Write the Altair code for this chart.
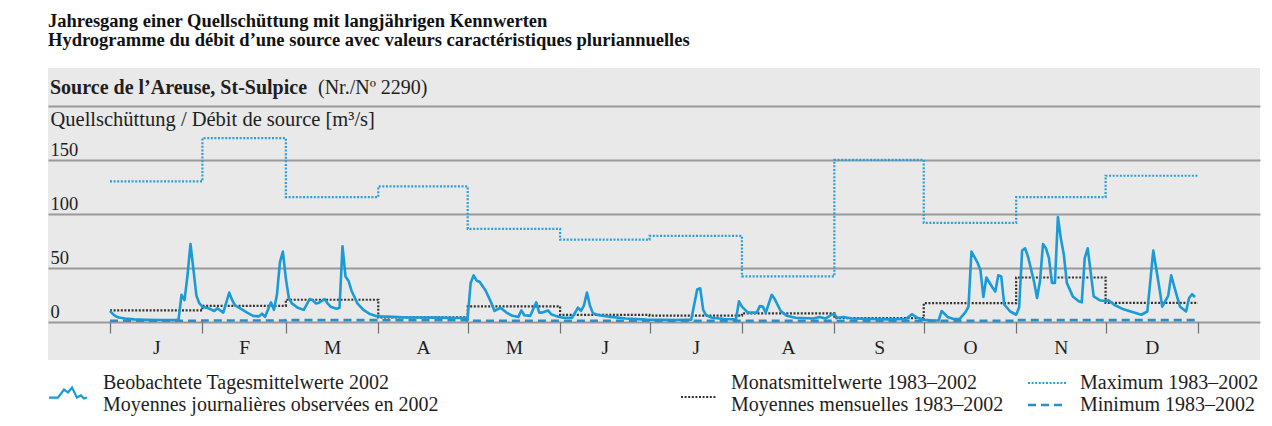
import altair as alt
import pandas as pd

# ---------------- data ----------------
# observed daily means 2002 (day of year from 0 = 1 Jan, value m3/s)
days = [0, 1, 2, 3, 5, 8, 12, 17, 22, 23, 24, 25, 26, 27, 28, 29, 30,
        31, 33, 35, 36, 38, 40, 41, 42, 44, 46, 48, 50, 51, 52, 54, 55, 56, 57, 58,
        59, 60, 61, 63, 65, 67, 68, 69, 70, 72, 73, 74, 76, 77, 78, 79, 80, 81, 83, 85, 87, 89,
        91, 95, 100, 105, 110, 115, 119, 120,
        121, 122, 123, 124, 126, 128, 129, 131, 133, 135, 137, 138, 139, 141, 143, 144, 145, 147, 148, 150,
        152, 155, 157, 158, 159, 160, 161, 162, 164, 168, 173, 180,
        185, 190, 195, 197, 198, 199, 200, 202, 206, 210, 211,
        212, 214, 217, 218, 219, 220, 222, 223, 225, 227, 230, 236, 238, 240, 242,
        243, 244, 246, 249, 255, 261, 267, 269, 271,
        273, 276, 278, 279, 281, 283, 285, 287, 288, 289, 291, 292, 293, 294, 296, 297, 298, 299, 300, 302,
        304, 305, 306, 307, 308, 310, 311, 312, 313, 314, 315, 316, 317, 318, 319, 320, 321, 323, 325, 326,
        327, 328, 329, 330, 332,
        334, 335, 337, 340, 343, 346, 348, 350, 352, 353, 355, 356, 358, 359, 361, 362, 363, 364]
flow = [10, 7, 5, 4, 3, 2.2, 1.8, 1.6, 1.5, 2, 25, 20, 43, 72, 48, 24, 17,
        14, 12.5, 10, 12.5, 8.5, 27, 20, 15, 12, 8.5, 5.5, 5, 7.5, 4.5, 18, 11, 25, 55, 65,
        40, 22, 17, 13, 11, 21, 20, 17, 17.5, 21, 17, 14, 12, 13, 70, 42, 38, 29, 17, 11, 7.5, 5.5,
        5, 4.5, 4, 4, 3.8, 3.5, 3.5, 4,
        36, 43, 38, 37, 29, 17, 10, 13, 8.5, 5.5, 4.5, 10.5, 6, 5.5, 18, 8.5, 8.5, 10.5, 7, 5,
        3.7, 3.7, 13, 10, 15, 27, 15, 8, 6, 4.5, 3, 2,
        1.8, 1.7, 2, 30, 31, 11, 6, 3.7, 2.5, 2.2, 19,
        14, 8.5, 8.5, 14.5, 14, 8.5, 25, 21, 10, 5.5, 3.7, 3, 4.5, 3, 6.5,
        7, 3.7, 4.5, 3, 2.5, 2.2, 2.5, 7, 3.5,
        1.8, 1.2, 1.2, 10, 4.5, 2.5, 2.5, 9, 14, 65, 55, 48, 23, 41, 32, 28, 43, 42, 16, 9.5,
        6.5, 13.5, 66, 68, 60, 37, 22, 38, 72, 68, 59, 36, 36, 97, 77, 62, 36, 23.5, 19, 18,
        59, 68, 46, 23.5, 20,
        19, 20, 15.5, 11.5, 9, 6.5, 9.5, 66, 32, 14, 24, 43, 23, 14, 9.5, 22, 25.5, 23]

month_start = [0, 31, 59, 90, 120, 151, 181, 212, 243, 273, 304, 334]
month_end = 365
month_mid = [15.5, 45, 74.5, 105, 135.5, 166, 196.5, 227.5, 258, 288.5, 319, 349.5]
month_letters = ["J", "F", "M", "A", "M", "J", "J", "A", "S", "O", "N", "D"]
month_mean = [10.5, 14.8, 20.4, 4.0, 14.2, 6.3, 5.7, 7.8, 3.3, 17.2, 41.0, 17.5]
month_max = [130, 170, 115.4, 125.3, 86, 76, 79.6, 42, 150, 91.6, 115.4, 135.2]
month_min = [1.0, 1.2, 1.5, 1.5, 1.0, 1.0, 0.8, 0.8, 0.7, 0.8, 1.5, 1.5]

grid_values = [0, 50, 100, 150, 200]

title_lines = ["Jahresgang einer Quellschüttung mit langjährigen Kennwerten",
               "Hydrogramme du débit d’une source avec valeurs caractéristiques pluriannuelles"]
station_bold = "Source de l’Areuse, St-Sulpice"
station_reg = "(Nr./Nº 2290)"
y_title = "Quellschüttung / Débit de source [m³/s]"
leg_daily = ["Beobachtete Tagesmittelwerte 2002", "Moyennes journalières observées en 2002"]
leg_mean = ["Monatsmittelwerte 1983–2002", "Moyennes mensuelles 1983–2002"]
leg_max = "Maximum 1983–2002"
leg_min = "Minimum 1983–2002"

# ---------------- styling ----------------
FONT = "Liberation Serif"
TXT = "#1e1e1e"
BLUE = "#1a9bd7"
BLUE_MAX = "#2aa0d8"
BLUE_MIN = "#2a8fc8"
W, H = 1212, 292

daily_df = pd.DataFrame({"day": days, "value": flow})


def steps(vals):
    return pd.DataFrame({"day": month_start + [month_end], "value": vals + [vals[-1]]})


bounds = month_start + [month_end]
tick_vals = sorted(bounds + month_mid)
label_expr = ("[" + ",".join("'%s'" % m for m in month_letters) + "][indexof(["
              + ",".join(str(v) for v in month_mid) + "], datum.value)] || ''")
tick_test = "indexof([" + ",".join(str(v) for v in bounds) + "], datum.value) < 0"

x_enc = alt.X("day:Q",
              scale=alt.Scale(domain=[-20.8, 385.8], nice=False, zero=False),
              axis=alt.Axis(values=tick_vals, orient="bottom", offset=-38, domain=False, grid=False,
                            ticks=True, tickSize=11, tickColor="#6e6e6e", tickWidth=1.2,
                            tickOpacity={"condition": {"test": tick_test, "value": 0}, "value": 1},
                            labelExpr=label_expr, labelFont=FONT, labelFontSize=19.5, labelColor=TXT,
                            labelPadding=5, labelBaseline="top", labelOverlap=False, labelFlush=False,
                            labelBound=False, title=None))
y_enc = alt.Y("value:Q",
              scale=alt.Scale(domain=[-35.4, 235.0], nice=False, zero=False),
              axis=alt.Axis(values=grid_values, orient="left", domain=False, ticks=False, tickSize=0,
                            grid=True, gridColor="#9a9a9a", gridWidth=1.8,
                            labelExpr="datum.value == 200 ? '' : datum.label",
                            labelAlign="left", labelBaseline="alphabetic", labelPadding=-2, labelOffset=-4,
                            labelFont=FONT, labelFontSize=18.5, labelColor=TXT, labelOverlap=False,
                            labelFlush=False, labelBound=False,
                            title=y_title, titleAngle=0, titleAlign="left", titleBaseline="alphabetic",
                            titleX=2, titleY=57, titleFont=FONT, titleFontSize=20.5,
                            titleFontWeight="normal", titleColor=TXT))

max_line = alt.Chart(steps(month_max)).mark_line(
    interpolate="step-after", color=BLUE_MAX, strokeWidth=2.2, strokeDash=[2, 1.6]
).encode(x=x_enc, y=y_enc)
mean_line = alt.Chart(steps(month_mean)).mark_line(
    interpolate="step-after", color="#333333", strokeWidth=2.2, strokeDash=[2, 1.6]
).encode(x=x_enc, y=y_enc)
daily_line = alt.Chart(daily_df).mark_line(color=BLUE, strokeWidth=2.6, strokeJoin="round").encode(x=x_enc, y=y_enc)
min_line = alt.Chart(steps(month_min)).mark_line(
    interpolate="step-after", color=BLUE_MIN, strokeWidth=2.6, strokeDash=[8, 5]
).encode(x=x_enc, y=y_enc)


def text(t, x, y, size=20, weight="normal", baseline="middle"):
    return alt.Chart(pd.DataFrame({"t": [t]})).mark_text(
        font=FONT, fontSize=size, fontWeight=weight, color=TXT, align="left", baseline=baseline
    ).encode(x=alt.value(x), y=alt.value(y), text="t:N")


header = text(station_bold, 2, 20, 20, "bold") + text(station_reg, 270, 20, 20)

legend_texts = (text(leg_daily[0], 55, 315) + text(leg_daily[1], 55, 337)
                + text(leg_mean[0], 683, 315) + text(leg_mean[1], 683, 337)
                + text(leg_max, 1032, 315) + text(leg_min, 1032, 337))

zig = "M-1,0.24L-0.53,0.24L-0.21,-0.18L0,-0.03L0.21,-0.29L0.47,0.24L0.68,0.13L0.84,0.29L1,0.24"
icon_daily = alt.Chart(pd.DataFrame({"k": [0]})).mark_point(
    shape=zig, size=1444, filled=False, stroke=BLUE, strokeWidth=2.2, opacity=1
).encode(x=alt.value(20), y=alt.value(325))


def rule_icon(x1, x2, y, color, dash, width):
    return alt.Chart(pd.DataFrame({"k": [0]})).mark_rule(
        color=color, strokeDash=dash, strokeWidth=width
    ).encode(x=alt.value(x1), x2=alt.value(x2), y=alt.value(y))


icons = (icon_daily
         + rule_icon(633, 668, 329, "#333333", [2, 1.6], 2.2)
         + rule_icon(980, 1018, 315, BLUE_MAX, [2, 1.6], 2.2)
         + rule_icon(980, 1018, 337, BLUE_MIN, [8, 5], 2.6))

chart = alt.layer(
    max_line, mean_line, daily_line, min_line, header, legend_texts, icons
).properties(
    width=W, height=H,
    autosize=alt.AutoSizeParams(type="none"),
    padding={"left": 40, "top": 60, "right": 4, "bottom": 58},
    title=alt.TitleParams(text=title_lines, anchor="start", frame="group", font=FONT, fontSize=18.5,
                          fontWeight="bold", color="#111111", lineHeight=19, offset=19),
    background="white",
).configure_view(fill="#e9e9e9", strokeWidth=0)

chart.save("out.html", embed_options={"renderer": "svg", "actions": False})
